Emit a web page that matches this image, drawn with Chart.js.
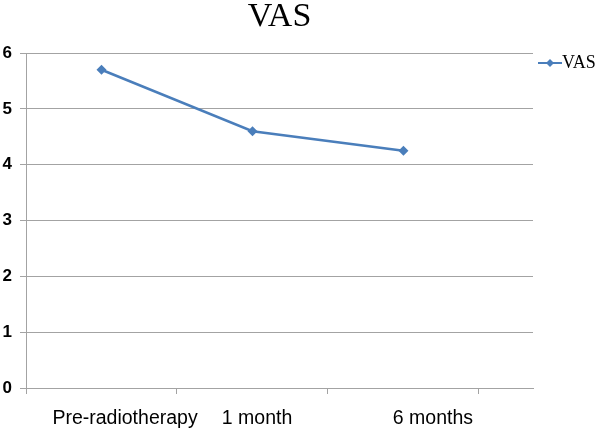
<!DOCTYPE html>
<html>
<head>
<meta charset="utf-8">
<script src="https://cdn.jsdelivr.net/npm/chart.js@4"></script>
<style>
    html, body { margin: 0; padding: 0; background: #fff; }
    #wrap { width: 600px; height: 430px; }
</style>
</head>
<body>
<div id="wrap"><canvas id="vas-chart"></canvas></div>
<script>
var categories = ['Pre-radiotherapy', '1 month', '6 months'];
var vasValues = [5.7, 4.6, 4.25];
var yTicks = [0, 1, 2, 3, 4, 5, 6];
var seriesName = 'VAS';

// layout only: where the category boundaries and labels sit, in category units
var tickMarks = [-0.5, 0.5, 1.5, 2.5];
var labelPos = [0.156, 1.03, 2.195];

var lineColor = '#4a7ebb';
var gridColor = '#a3a3a3';

function legendIcon(){
    var c = document.createElement('canvas');
    c.width = 37;
    c.height = 12;
    var g = c.getContext('2d');
    g.strokeStyle = lineColor;
    g.lineWidth = 2;
    g.beginPath();
    g.moveTo(13, 6);
    g.lineTo(37, 6);
    g.stroke();
    g.fillStyle = lineColor;
    g.beginPath();
    g.moveTo(25, 2);
    g.lineTo(29, 6);
    g.lineTo(25, 10);
    g.lineTo(21, 6);
    g.closePath();
    g.fill();
    return c;
}

function createChart(){
    var points = [];
    for(var i = 0; i < vasValues.length; i++){
        points.push({x: i, y: vasValues[i]});
    }
    var xTicks = tickMarks.concat(labelPos).sort(function(a, b){ return a - b; });

    var myChart = new Chart(document.getElementById('vas-chart'), {
        type: 'line',
        data: {
            datasets: [{
                label: seriesName,
                data: points,
                borderColor: lineColor,
                backgroundColor: lineColor,
                borderWidth: 2.5,
                pointStyle: 'rectRot',
                pointRadius: 5,
                pointBorderWidth: 0,
                tension: 0
            }]
        },
        options: {
            responsive: true,
            maintainAspectRatio: false,
            animation: false,
            layout: { padding: 0 },
            scales: {
                x: {
                    type: 'linear',
                    min: -0.5,
                    max: 2.858,
                    afterBuildTicks: function(scale){
                        scale.ticks = xTicks.map(function(v){ return {value: v}; });
                    },
                    afterFit: function(scale){
                        scale.height = 42;
                    },
                    grid: {
                        drawOnChartArea: false,
                        drawTicks: true,
                        tickLength: 6,
                        tickColor: function(ctx){
                            if(ctx.tick && tickMarks.indexOf(ctx.tick.value) >= 0) return gridColor;
                            return 'rgba(0,0,0,0)';
                        }
                    },
                    border: { display: true, color: gridColor, width: 1 },
                    ticks: {
                        autoSkip: false,
                        maxRotation: 0,
                        minRotation: 0,
                        padding: 13,
                        color: '#000',
                        font: { family: 'Liberation Sans', size: 19.5 },
                        callback: function(value){
                            var k = labelPos.indexOf(value);
                            return k >= 0 ? categories[k] : '';
                        }
                    }
                },
                y: {
                    min: yTicks[0],
                    max: yTicks[yTicks.length - 1],
                    afterBuildTicks: function(scale){
                        scale.ticks = yTicks.map(function(v){ return {value: v}; });
                    },
                    afterFit: function(scale){
                        scale.width = 26;
                    },
                    grid: {
                        color: gridColor,
                        lineWidth: 1,
                        drawTicks: true,
                        tickLength: 6
                    },
                    border: { display: true, color: gridColor, width: 1 },
                    ticks: {
                        padding: 8,
                        color: '#000',
                        font: { family: 'Liberation Sans', size: 17, weight: 'bold' }
                    }
                }
            },
            plugins: {
                title: {
                    display: true,
                    text: seriesName,
                    fullSize: false,
                    color: '#000',
                    font: { family: 'Liberation Serif', size: 34, weight: 'normal', lineHeight: 1 },
                    padding: { top: 0, bottom: 19 }
                },
                legend: {
                    display: true,
                    position: 'right',
                    align: 'start',
                    fullSize: false,
                    maxWidth: 67,
                    labels: {
                        usePointStyle: true,
                        pointStyle: legendIcon(),
                        pointStyleWidth: 19,
                        padding: 1,
                        color: '#000',
                        font: { family: 'Liberation Serif', size: 18 }
                    }
                },
                tooltip: { enabled: false }
            }
        }
    });
}

createChart();
</script>
</body>
</html>
